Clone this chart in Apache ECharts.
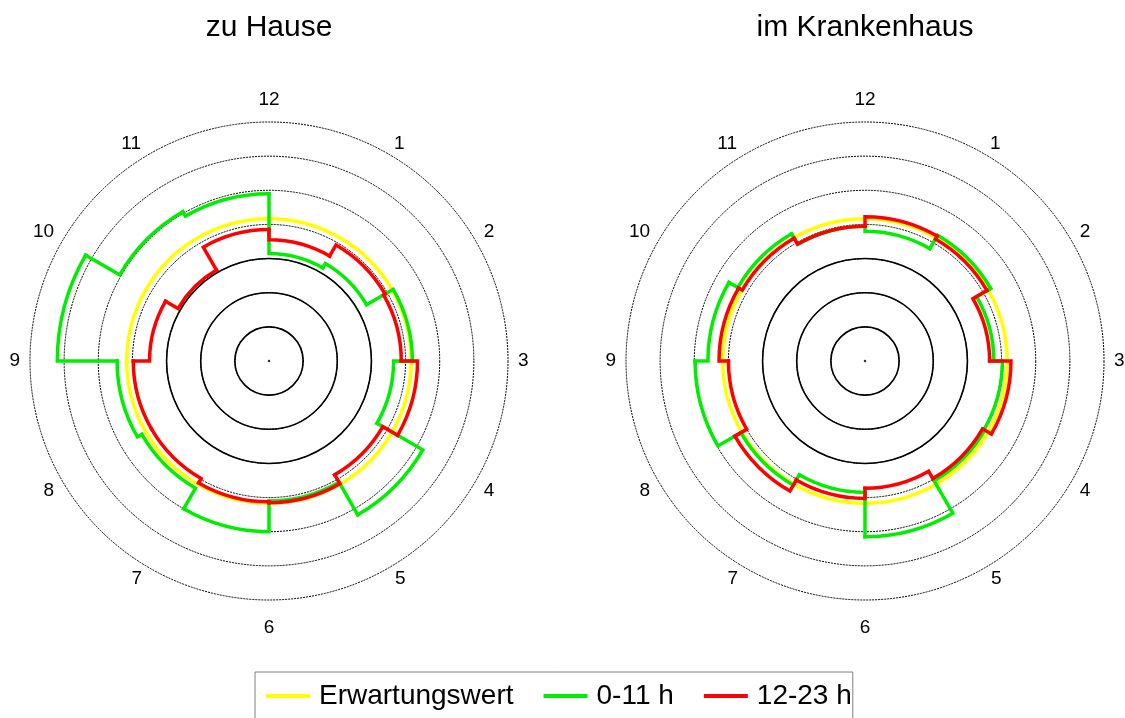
<!DOCTYPE html>
<html><head><meta charset="utf-8">
<script src="https://cdn.jsdelivr.net/npm/echarts@6/dist/echarts.min.js"></script>
<style>html,body{margin:0;padding:0;background:#fff}#c{width:1125px;height:718px}</style>
</head><body><div id="c"></div>
<script>
// ---- data ----
const panelTitles = ['zu Hause', 'im Krankenhaus'];
const legendNames = ['Erwartungswert', '0-11 h', '12-23 h'];
const hourLabels = ['12', '1', '2', '3', '4', '5', '6', '7', '8', '9', '10', '11'];
const hourBins = [0, 1, 2, 3, 4, 5, 6, 7, 8, 9, 10, 11];
const expected = [8.33, 8.33, 8.33, 8.33, 8.33, 8.33, 8.33, 8.33, 8.33, 8.33, 8.33, 8.33];
const homeAM = [6.3, 6.6, 8.4, 7.3, 10.4, 8.2, 10.0, 8.6, 8.9, 12.4, 10.1, 9.8];
const homePM = [7.1, 7.85, 7.75, 8.7, 7.7, 8.3, 8.25, 7.95, 7.95, 7.0, 6.15, 7.7];
const hospAM = [7.6, 8.5, 7.55, 8.05, 8.1, 10.3, 7.7, 8.4, 9.95, 9.2, 8.6, 7.9];
const hospPM = [8.45, 8.25, 7.3, 8.55, 7.95, 7.45, 8.05, 8.8, 8.0, 8.55, 8.3, 7.9];
const centerPoint = [[0, 0]];

const FONT = 'Liberation Sans, Arial, sans-serif';
const colors = ['#ffff00', '#00ee00', '#ff0000'];
const centers = [[269, 361], [865, 361]];
const R = 239, RMAX = 14, RINNER = 6;

function stepData(vals) {
  return hourBins.map((h, i) => [h, vals[i], vals[(i + vals.length - 1) % vals.length]]);
}
function makeRender(color) {
  return function (params, api) {
    const cs = params.coordSys;
    const h = api.value(0), v = api.value(1), pv = api.value(2);
    const p0 = api.coord([pv, h]);
    const p1 = api.coord([v, h]);
    const p2 = api.coord([v, h + 1]);
    const r = Math.hypot(p1[0] - cs.cx, p1[1] - cs.cy);
    return {
      type: 'path',
      shape: { pathData: 'M' + p0[0] + ' ' + p0[1] + 'L' + p1[0] + ' ' + p1[1] +
        'A' + r + ' ' + r + ' 0 0 1 ' + p2[0] + ' ' + p2[1] },
      style: { fill: null, stroke: color, lineWidth: 3.5, lineJoin: 'miter', lineCap: 'square' }
    };
  };
}
// per-label fine placement (padding nudges the label box)
const labelPads = {
  0: [0, 0, 12, 0], 1: [14, 0, 0, 5], 2: [16, 0, 0, 7], 3: [0, 0, 0, 9],
  4: [0, 0, 12, 7], 5: [0, 0, 4, 6], 6: [17, 0, 0, 0], 7: [0, 7, 4, 0],
  8: [0, 7, 12, 0], 9: [0, 9, 0, 0], 10: [16, 7, 0, 0], 11: [14, 8, 0, 0]
};
function hourLabel(v) {
  const t = hourLabels[v];
  if (t === undefined) return '';
  return '{h' + v + '|' + t + '}';
}
const rich = {};
Object.keys(labelPads).forEach(k => {
  rich['h' + k] = { fontSize: 19, fontFamily: FONT, color: '#000', padding: labelPads[k] };
});

const polar = [], angleAxis = [], radiusAxis = [], series = [], title = [];
centers.forEach((c, k) => {
  polar.push({ center: [c[0], c[1]], radius: R });
  angleAxis.push({
    polarIndex: k, type: 'value', min: 0, max: 12, interval: 1, startAngle: 90, clockwise: true,
    axisLine: { show: false }, axisTick: { show: false }, splitLine: { show: false },
    axisLabel: { margin: 1, fontSize: 19, color: '#000', fontFamily: FONT,
      align: 'center', verticalAlign: 'middle', formatter: hourLabel, rich: rich }
  });
  radiusAxis.push({
    polarIndex: k, type: 'value', min: 0, max: RMAX, interval: 2,
    axisLine: { show: false }, axisTick: { show: false }, axisLabel: { show: false },
    splitLine: { show: true, lineStyle: { color: '#000', width: 1, type: [2, 1] } }
  });
  title.push({ text: panelTitles[k], left: c[0], top: 13, textAlign: 'center', padding: 0,
    textStyle: { fontSize: 30, fontWeight: 'normal', color: '#000', fontFamily: FONT } });
});
// inner solid rings
centers.forEach((c, k) => {
  polar.push({ center: [c[0], c[1]], radius: R * RINNER / RMAX });
  angleAxis.push({ polarIndex: k + 2, type: 'value', min: 0, max: 12, startAngle: 90,
    axisLine: { show: false }, axisTick: { show: false }, splitLine: { show: false }, axisLabel: { show: false } });
  radiusAxis.push({ polarIndex: k + 2, type: 'value', min: 0, max: RINNER, interval: 2,
    axisLine: { show: false }, axisTick: { show: false }, axisLabel: { show: false },
    splitLine: { show: true, lineStyle: { color: '#000', width: 1.6, type: 'solid' } } });
});

const panels = [[expected, homeAM, homePM], [expected, hospAM, hospPM]];
panels.forEach((sets, k) => {
  sets.forEach((vals, j) => {
    series.push({
      type: 'custom', name: legendNames[j], coordinateSystem: 'polar', polarIndex: k,
      itemStyle: { color: colors[j] }, color: colors[j],
      encode: { radius: 1, angle: 0 }, z: 2 + j,
      renderItem: makeRender(colors[j]), data: stepData(vals)
    });
  });
  series.push({ type: 'scatter', coordinateSystem: 'polar', polarIndex: k, symbolSize: 2.5,
    itemStyle: { color: '#000' }, data: centerPoint, silent: true, z: 1 });
});

const chart = echarts.init(document.getElementById('c'), null, { renderer: 'canvas' });
chart.setOption({
  backgroundColor: '#fff', animation: false,
  title, polar, angleAxis, radiusAxis, series,
  legend: {
    data: legendNames.map(n => ({ name: n, icon: 'rect' })),
    left: 255, top: 672, orient: 'horizontal', selectedMode: false,
    itemWidth: 44, itemHeight: 4, itemGap: 30,
    borderColor: '#808080', borderWidth: 1, padding: [10, 1, 16, 11],
    textStyle: { fontSize: 28, color: '#000', fontFamily: FONT, padding: [0, 0, 0, 4] }
  }
});
</script></body></html>
